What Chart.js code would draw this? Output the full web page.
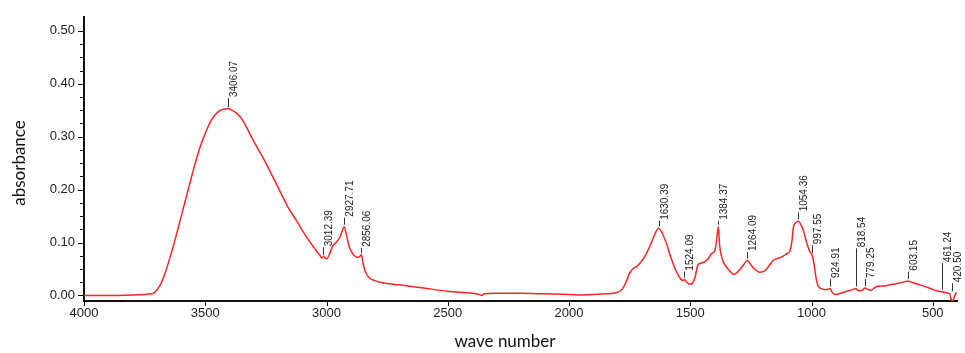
<!DOCTYPE html>
<html>
<head>
<meta charset="utf-8">
<script src="https://cdn.jsdelivr.net/npm/chart.js@4/dist/chart.umd.min.js"></script>
<style>
  html, body { margin: 0; padding: 0; background: #fff; }
  #wrap { width: 965px; height: 353px; position: relative; }
</style>
</head>
<body>
<div id="wrap"><canvas id="chart"></canvas></div>
<script>
// spectrum, wave number (cm-1) vs absorbance
const waveNumbers = [
  4000, 3900, 3800, 3750, 3720, 3700, 3680, 3660, 3640, 3620, 3600, 3580, 3560, 3540, 3520, 3500,
  3480, 3460, 3440, 3420, 3406, 3390, 3370, 3350, 3330, 3310, 3290, 3260, 3230, 3192, 3160, 3123,
  3090, 3054, 3040, 3027, 3020, 3012, 3000, 2990, 2975, 2960, 2945, 2935, 2927, 2918, 2905, 2890,
  2875, 2862, 2856, 2848, 2838, 2820, 2800, 2780, 2700, 2600, 2500, 2400, 2370, 2360, 2350, 2300,
  2200, 2100, 2000, 1950, 1850, 1800, 1780, 1765, 1750, 1735, 1720, 1700, 1680, 1660, 1645, 1630,
  1615, 1598, 1580, 1563, 1545, 1530, 1524, 1515, 1501, 1490, 1480, 1468, 1455, 1440, 1425, 1412,
  1398, 1390, 1384, 1379, 1370, 1360, 1340, 1322, 1310, 1295, 1280, 1264, 1250, 1235, 1215, 1199,
  1180, 1158, 1140, 1123, 1105, 1089, 1080, 1075, 1065, 1054, 1040, 1033, 1020, 1006, 997, 990,
  980, 972, 955, 938, 924, 915, 903, 880, 855, 830, 818, 805, 790, 779, 770, 755,
  731, 700, 676, 640, 603, 580, 553, 520, 498, 475, 461, 445, 430, 425, 418, 412,
  405, 400
]
const absorbance = [
  0.000, 0.000, 0.001, 0.002, 0.003, 0.010, 0.025, 0.050, 0.080, 0.113, 0.148, 0.183, 0.218, 0.252, 0.282, 0.306,
  0.327, 0.341, 0.349, 0.352, 0.353, 0.350, 0.344, 0.334, 0.318, 0.300, 0.283, 0.259, 0.232, 0.197, 0.168, 0.141,
  0.116, 0.092, 0.083, 0.076, 0.071, 0.073, 0.069, 0.075, 0.093, 0.100, 0.110, 0.122, 0.130, 0.115, 0.090, 0.078,
  0.072, 0.074, 0.077, 0.058, 0.043, 0.032, 0.028, 0.025, 0.020, 0.014, 0.008, 0.004, 0.002, 0.000, 0.003, 0.004,
  0.004, 0.003, 0.002, 0.001, 0.003, 0.006, 0.012, 0.025, 0.042, 0.051, 0.055, 0.065, 0.080, 0.100, 0.117, 0.127,
  0.117, 0.098, 0.072, 0.051, 0.035, 0.028, 0.030, 0.025, 0.021, 0.024, 0.035, 0.058, 0.061, 0.064, 0.070, 0.079,
  0.085, 0.110, 0.130, 0.095, 0.072, 0.060, 0.048, 0.040, 0.042, 0.049, 0.058, 0.066, 0.058, 0.050, 0.044, 0.045,
  0.053, 0.066, 0.070, 0.073, 0.078, 0.084, 0.105, 0.128, 0.137, 0.140, 0.130, 0.122, 0.100, 0.082, 0.076, 0.060,
  0.030, 0.017, 0.012, 0.011, 0.013, 0.006, 0.002, 0.004, 0.008, 0.011, 0.013, 0.009, 0.010, 0.014, 0.012, 0.010,
  0.017, 0.018, 0.020, 0.023, 0.027, 0.024, 0.020, 0.015, 0.011, 0.008, 0.007, 0.005, 0.003, -0.006, -0.011, -0.004,
  0.004, 0.005
]

// marked peaks
const peakLabels = ['3406.07', '3012.39', '2927.71', '2856.06', '1630.39', '1524.09', '1384.37', '1264.09',
  '1054.36', '997.55', '924.91', '818.54', '779.25', '603.15', '461.24', '420.50']
const peakWaves = [3406.07, 3012.39, 2927.71, 2856.06, 1630.39, 1524.09, 1384.37, 1264.09,
  1054.36, 997.55, 924.91, 818.54, 779.25, 603.15, 461.24, 420.50]
const peakAbs = [0.352, 0.072, 0.130, 0.076, 0.127, 0.030, 0.130, 0.066,
  0.140, 0.076, 0.013, 0.013, 0.014, 0.027, 0.007, 0.004]
const peakLabelAbs = [0.373, 0.091, 0.147, 0.090, 0.141, 0.045, 0.141, 0.082,
  0.157, 0.095, 0.031, 0.089, 0.031, 0.045, 0.061, 0.023]

const xTicks = [4000, 3500, 3000, 2500, 2000, 1500, 1000, 500]
const yTicks = []
for (let i = 0; i <= 20; i++) yTicks.push(+(i * 0.025).toFixed(3))

const isMajor = (v) => Math.abs(v * 10 - Math.round(v * 10)) < 1e-6

const points = waveNumbers.map((w, i) => ({ x: w, y: absorbance[i] }))

const decorPlugin = {
  id: 'decor',
  afterDraw(chart) {
    const { ctx, chartArea } = chart
    const xs = chart.scales.x
    const ys = chart.scales.y
    ctx.save()

    // tick marks
    ctx.strokeStyle = '#111'
    ctx.lineWidth = 1
    yTicks.forEach(v => {
      const py = Math.round(ys.getPixelForValue(v)) + 0.5
      const len = isMajor(v) ? 5 : 3
      ctx.beginPath()
      ctx.moveTo(chartArea.left - 1 - len, py)
      ctx.lineTo(chartArea.left, py)
      ctx.stroke()
    })
    xTicks.forEach(v => {
      const px = Math.round(xs.getPixelForValue(v)) + 0.5
      ctx.beginPath()
      ctx.moveTo(px, chartArea.bottom)
      ctx.lineTo(px, chartArea.bottom + 5)
      ctx.stroke()
    })

    // peak markers and labels
    ctx.font = '10px "Liberation Sans", Arial, sans-serif'
    ctx.fillStyle = '#222'
    ctx.strokeStyle = '#333'
    peakWaves.forEach((w, i) => {
      const px = Math.round(xs.getPixelForValue(w)) + 0.5
      const y0 = ys.getPixelForValue(peakAbs[i]) - 2
      const y1 = ys.getPixelForValue(peakLabelAbs[i])
      ctx.beginPath()
      ctx.moveTo(px, y0)
      ctx.lineTo(px, y1)
      ctx.stroke()
      ctx.save()
      ctx.translate(px + 1, y1 - 1)
      ctx.rotate(-Math.PI / 2)
      ctx.textAlign = 'left'
      ctx.textBaseline = 'top'
      ctx.fillText(peakLabels[i], 0, 0)
      ctx.restore()
    })

    // axis titles
    ctx.fillStyle = '#111'
    ctx.font = '17px Lato, "Open Sans", sans-serif'
    ctx.textAlign = 'center'
    ctx.textBaseline = 'middle'
    ctx.fillText('wave number', 505, 342)
    ctx.save()
    ctx.translate(20, 163)
    ctx.rotate(-Math.PI / 2)
    ctx.fillText('absorbance', 0, 0)
    ctx.restore()

    ctx.restore()
  }
}

new Chart(document.getElementById('chart'), {
  type: 'line',
  data: {
    datasets: [{
      label: 'absorbance',
      data: points,
      borderColor: 'rgb(255, 35, 35)',
      borderWidth: 1.5,
      pointRadius: 0,
      fill: false,
      cubicInterpolationMode: 'monotone'
    }]
  },
  options: {
    responsive: true,
    maintainAspectRatio: false,
    animation: false,
    layout: { padding: { left: 0, right: 8, top: 14, bottom: 0 } },
    plugins: {
      legend: { display: false },
      tooltip: { enabled: false }
    },
    scales: {
      x: {
        type: 'linear',
        reverse: true,
        min: 400,
        max: 4000,
        afterBuildTicks: (scale) => { scale.ticks = xTicks.map(v => ({ value: v })) },
        afterFit: (scale) => { scale.height = 52 },
        grid: { display: false, drawTicks: false },
        border: { display: true, color: '#111', width: 2 },
        ticks: {
          autoSkip: false,
          maxRotation: 0,
          padding: 5,
          color: '#222',
          font: { family: '"Liberation Sans", Arial, sans-serif', size: 13 },
          callback: (value) => String(value)
        }
      },
      y: {
        min: -0.0105,
        max: 0.5265,
        afterBuildTicks: (scale) => { scale.ticks = yTicks.map(v => ({ value: v })) },
        afterFit: (scale) => { scale.width = 84 },
        grid: { display: false, drawTicks: false },
        border: { display: true, color: '#111', width: 2 },
        ticks: {
          autoSkip: false,
          padding: 9,
          color: '#222',
          font: { family: '"Liberation Sans", Arial, sans-serif', size: 13 },
          callback: (value) => isMajor(value) ? value.toFixed(2) : ''
        }
      }
    }
  },
  plugins: [decorPlugin]
})
</script>
</body>
</html>
